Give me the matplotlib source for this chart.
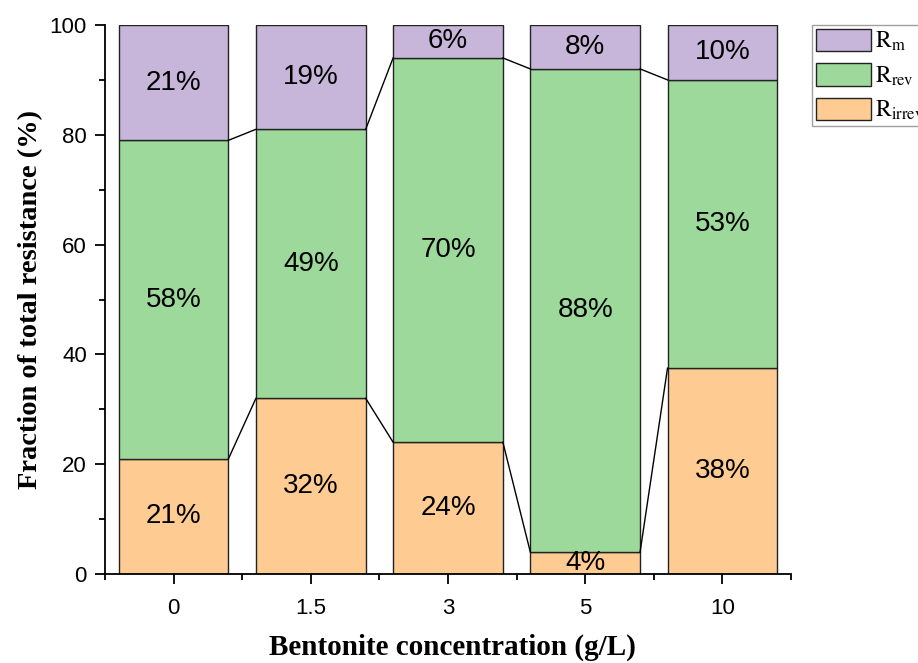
import math
import matplotlib
matplotlib.use("Agg")
import matplotlib.pyplot as plt
import numpy as np
from matplotlib.ticker import FixedLocator

plt.rcParams["font.family"] = ["Liberation Sans", "DejaVu Sans"]
plt.rcParams["mathtext.fontset"] = "stix"

# Bentonite concentrations (g/L) and the resistance fractions (%)
categories = ["0", "1.5", "3", "5", "10"]
r_irrev = [21, 32, 24, 4, 37.5]
r_rev = [58, 49, 70, 88, 52.5]
r_m = [21, 19, 6, 8, 10]
series_names = [r"$\mathrm{R_{m}}$", r"$\mathrm{R_{rev}}$", r"$\mathrm{R_{irrev}}$"]

col_m = "#C7B6D9"
col_rev = "#9CD99B"
col_irrev = "#FECC93"

W, H = 918, 663
fig = plt.figure(figsize=(W / 100, H / 100), dpi=100)
ax_l, ax_r, ax_t, ax_b = 105, 791, 25, 574
ax = fig.add_axes([ax_l / W, 1 - ax_b / H, (ax_r - ax_l) / W, (ax_b - ax_t) / H])

x = np.arange(len(categories))
width = 0.8
irrev = np.array(r_irrev, dtype=float)
rev = np.array(r_rev, dtype=float)
m = np.array(r_m, dtype=float)

edge = dict(edgecolor="#222222", linewidth=1.0)
b_irrev = ax.bar(x, irrev, width, color=col_irrev, **edge, zorder=2)
b_rev = ax.bar(x, rev, width, bottom=irrev, color=col_rev, **edge, zorder=2)
b_m = ax.bar(x, m, width, bottom=irrev + rev, color=col_m, **edge, zorder=2)

# connector lines between the stacked segment boundaries of neighbouring bars
for level in (irrev, irrev + rev):
    for i in range(len(x) - 1):
        ax.plot([x[i] + width / 2, x[i + 1] - width / 2], [level[i], level[i + 1]],
                color="black", linewidth=1.0, zorder=3)


def pct(v):
    return f"{math.floor(v + 0.5)}%"


for i in range(len(x)):
    ax.text(x[i], irrev[i] / 2, pct(irrev[i]), ha="center", va="center", fontsize=20, zorder=4)
    ax.text(x[i], irrev[i] + rev[i] / 2, pct(rev[i]), ha="center", va="center", fontsize=20, zorder=4)
    ax.text(x[i], irrev[i] + rev[i] + m[i] / 2, pct(m[i]), ha="center", va="center", fontsize=20, zorder=4)

ax.set_xlim(-0.5, 4.5)
ax.set_ylim(0, 100)
ax.set_xticks(x)
ax.set_xticklabels(categories)
ax.xaxis.set_minor_locator(FixedLocator(np.arange(-0.5, 4.6, 1.0)))
ax.set_yticks(np.arange(0, 101, 20))
ax.yaxis.set_minor_locator(FixedLocator(np.arange(10, 100, 20)))

for side in ("top", "right"):
    ax.spines[side].set_visible(False)
for side in ("left", "bottom"):
    ax.spines[side].set_linewidth(1.3)

ax.tick_params(axis="both", which="major", direction="out", length=7, width=1.3, labelsize=16)
ax.tick_params(axis="both", which="minor", direction="out", length=4, width=1.3)
ax.tick_params(axis="x", which="major", pad=10)
ax.tick_params(axis="y", which="major", pad=6)

ax.set_xlabel("Bentonite concentration (g/L)", family="Liberation Serif",
              fontweight="bold", fontsize=21)
ax.xaxis.label.set_verticalalignment("baseline")
ax.xaxis.set_label_coords((452 - ax_l) / (ax_r - ax_l), (ax_b - 655) / (ax_b - ax_t))

ax.set_ylabel("Fraction of total resistance (%)", family="Liberation Serif",
              fontweight="bold", fontsize=20.5)
ax.yaxis.label.set_verticalalignment("baseline")
ax.yaxis.set_label_coords((37 - ax_l) / (ax_r - ax_l), 0.5)

leg = fig.legend([b_m, b_rev, b_irrev], series_names, loc="upper left",
                 bbox_to_anchor=(812 / W, 1 - 25 / H), fontsize=17,
                 frameon=True, fancybox=False, edgecolor="#888888",
                 handlelength=2.35, handleheight=1.1, labelspacing=0.42,
                 borderpad=0.15, borderaxespad=0, handletextpad=0.15)
leg.get_frame().set_linewidth(1.0)

fig.savefig("out.png", dpi=100)
